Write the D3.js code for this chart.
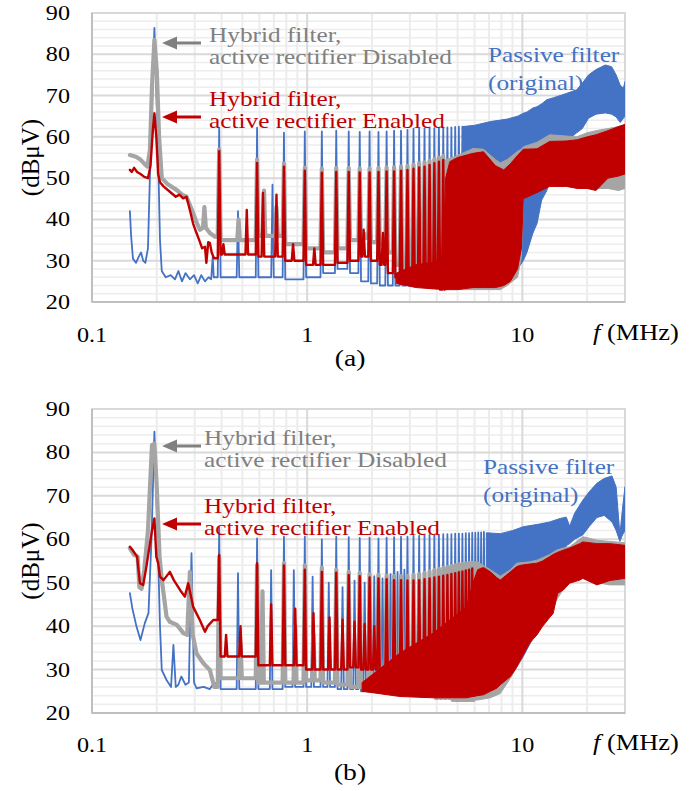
<!DOCTYPE html>
<html>
<head>
<meta charset="utf-8">
<script src="https://cdn.jsdelivr.net/npm/d3@7"></script>
<style>
  body { margin: 0; background: #fff; }
</style>
</head>
<body>
<div id="chart"></div>
<script>
// Spectre CEM (dBµV) — deux panneaux (a) et (b), axe fréquence log

const width = 700;
const height = 791;
const FONT = "'Liberation Serif', 'Times New Roman', serif";

const f0 = 0.195;        // fréquence de découpage (MHz), pas des harmoniques

const xTicks = [0.1, 1, 10];
const yTicks = [20, 30, 40, 50, 60, 70, 80, 90];

// ---------- Panneau (a) ----------
// lead = tracé avant la 2e harmonique ; peaks/valleys = harmoniques n = 2, 3, ...
// band = [f, bas, haut] zone dense à haute fréquence
const leadA_blue = [[0.15,42],[0.152,36],[0.155,30.5],[0.16,29.5],[0.165,31],[0.169,32],[0.173,30],[0.177,29.5],[0.182,33],[0.188,60],[0.195,86.4],[0.202,60],[0.207,35],[0.211,27.5],[0.22,26],[0.232,26.5],[0.243,25.5],[0.252,27.5],[0.262,25],[0.272,27],[0.285,25.5],[0.298,26.5],[0.31,24.5],[0.322,26.5],[0.335,25],[0.348,26],[0.358,25.5],[0.364,31],[0.368,26]];
const peaksA_blue = [62.2,62.2,61,61.3,61.3,61.5,61.3,61.2,61.3,61.2,61.3,61.5,61.5,61.7,62,62,62,62.1,62.1,62.2,62.2,62.3,62.3,62.4,62.5,62.5];
const valleysA_blue = [26,26,25.5,26,27,28,27,25,24.5,24,24,24,24,24,24,24,24,24,24,24,24,24.5,24.5,25,25,25.5];
const minorsA_blue = [[0.477,42],[0.69,48.4]];
const bandA_blue = [[5.3,24.5,62.5],[6,25,62.8],[7.1,26,63.7],[8.5,27,64.3],[9.5,28,65],[10.1,30,65.7],[10.5,32,66],[11.2,36.7,67],[11.7,39,67.3],[12.3,44.7,68],[13,47,69],[14,53,69.5],[16,59,70.5],[17.9,61,71.4],[19,62,73],[20.3,64.5,75],[22,65.5,76.3],[24.3,65.8,77.4],[26,65.5,77],[27.3,64.8,75],[28.5,63.5,72.5],[29.5,64.5,71.8],[30,65,73.4]];

const leadA_gray = [[0.15,55.6],[0.16,55.2],[0.168,54.5],[0.175,53.5],[0.181,52.8],[0.186,57],[0.19,72],[0.195,83.5],[0.2,76],[0.205,60],[0.211,50],[0.225,48.5],[0.248,47.1],[0.262,46],[0.275,45.5],[0.285,43.5],[0.295,41.6],[0.305,39.5],[0.317,37.5],[0.328,38],[0.333,43],[0.338,38],[0.353,36.7],[0.373,35.8]];
const peaksA_gray = [57,54.5,53.5,52.5,52.3,52.5,52.5,52.4,52.4,52.5,52.6,52.6,52.8,53,53.3,53.6,53.8,54.2,54.6,55,55.4];
const valleysA_gray = [35,36,34,33,32,33,35,35.5,34.5,34,32,29,27,26,25.5,25,24.5,24,24,23.5,23.5];
const minorsA_gray = [[0.48,40],[0.63,47],[0.72,43],[1.85,36.5],[2.25,35.5]];
const bandA_gray = [[4.4,23,54.5],[5,23,55.5],[5.9,23,57.2],[6.6,23,57],[7.5,23,54.5],[7.9,23,53.7],[8.5,24,54.5],[9.5,26,56.5],[9.9,31,57],[10.1,45.5,57.6],[11.7,47,58.7],[13.4,48.5,60.5],[16,48.5,60.2],[17.9,48,60],[20,48,61],[22,47.5,61.5],[25,47.5,62],[28,47,62.5],[30,47.5,63]];

const leadA_red = [[0.15,52],[0.153,51.5],[0.157,52.5],[0.162,51.5],[0.168,51],[0.175,50.3],[0.182,50],[0.187,53],[0.192,62],[0.195,65.7],[0.199,60],[0.203,51],[0.207,49],[0.215,48],[0.23,46.7],[0.245,45.5],[0.255,46],[0.265,45.1],[0.275,45.5],[0.285,42.3],[0.295,39],[0.306,36.7],[0.315,35],[0.325,33],[0.335,33.4],[0.34,29.5],[0.347,34.5],[0.353,34.3],[0.36,32],[0.369,30.6]];
const peaksA_red = [56.5,53.7,52.8,51.8,51.3,51.5,51.5,51.4,51.4,51.5,51.6,51.6,51.8,52,52.3,52.6,52.8,53.2,53.6,54,54.4];
const valleysA_red = [31.5,31,30,29,29,29.5,30,31,30,29,27,26,25.5,25,24.5,24,24,23.5,23.5,23,23];
const minorsA_red = [[0.408,34],[0.524,42.3],[0.623,46.4],[0.72,46],[0.86,34],[1.08,33],[1.83,37.5],[2.25,36.7]];
const bandA_red = [[2.6,24.5,27],[3.2,23.5,29],[4.3,23,30],[4.4,23,50],[4.6,23,54],[5,23,55],[5.9,23.5,56],[6.6,23.5,56.4],[7.5,23.5,53],[8.2,24,52],[8.8,25,53.5],[9.5,28,55.5],[9.9,33,56.5],[10.1,45,57],[11.7,46.5,57.1],[13.4,48,58.9],[16,48,59],[18,47.5,59.3],[20,47.5,60],[22,47,60.5],[25,50,61.5],[28,50.5,62.5],[30,51,63]];

// ---------- Panneau (b) ----------
const leadB_blue = [[0.15,47.6],[0.154,44.1],[0.161,39.9],[0.168,36.8],[0.176,40.7],[0.183,43],[0.189,60],[0.195,84.8],[0.202,60],[0.207,40],[0.211,29.9],[0.222,27.6],[0.233,26],[0.239,35.7],[0.245,26],[0.252,26.5],[0.26,28.4],[0.272,26.5],[0.282,27],[0.29,56.8],[0.298,27],[0.306,25.7],[0.33,26],[0.353,25.5],[0.368,26.9]];
const peaksB_blue = [62.9,60.2,60.6,60.6,60,60.6,60.5,60.3,60.4,60.2,60.4,60.5,60.6,60.6,60.8,60.8,61,61,61,61,61.2,61.2,61.2,61.3,61.3,61.3,61.4,61.4,61.5,61.5,61.6,61.6,61.7];
const valleysB_blue = [25.5,25.5,26,26,26,25.5,25.5,25,25,25,25,24.5,24.5,24.5,24.5,24,24,24,24,24,24,24,24,24,24,24,24.5,24.5,24.5,25,25,25,25.5];
const minorsB_blue = [[0.477,52.2],[0.68,52.9],[0.867,52.9],[1.06,51.4],[1.26,50],[1.46,49],[1.66,50.5],[1.85,50],[2.05,51.5],[2.24,51],[2.44,52],[2.63,52.5],[2.83,53]];
const bandB_blue = [[6.8,24.5,61.5],[7.9,25.5,61.3],[9,29,62],[10.1,33,62.9],[12,40,63.5],[13.4,44,64],[15,55,64.8],[16,58.5,65.1],[16.6,59,63],[17.5,60,66],[19.1,61,69],[20.5,63,71],[22.2,65,72.9],[24,65.5,74],[26.1,64,74.6],[27.3,62,72],[28.4,59.5,61],[29.2,61,67],[30,62,72.1]];

const leadB_gray = [[0.15,57.9],[0.157,56.4],[0.163,56],[0.166,49],[0.17,48.6],[0.175,53],[0.182,62],[0.19,81.7],[0.195,82],[0.2,72],[0.206,56],[0.211,50.6],[0.216,46.8],[0.222,42.2],[0.23,41],[0.248,40.3],[0.266,38.4],[0.277,38],[0.285,52.5],[0.294,38],[0.306,33.7],[0.33,31.4],[0.353,29.9],[0.37,26]];
const peaksB_gray = [56,54,54.5,54,53.5,53,52.5,52.3,52,51.8,51.6,51.5,51.5,51.6,51.8,52,52.3,52.6,52.9,53.2,53.4,53.6,53.8,54,54.2,54.3,54.4,54.5,54.6];
const valleysB_gray = [28,27,27,27.5,27,26.5,26,26,26,25.5,25.5,25,25,24.5,24.5,24,24,24,23.5,23.5,23.5,23.5,23,23,23,23,23,23,23];
const minorsB_gray = [[0.49,36],[0.62,48],[0.88,40],[1.07,38]];
const bandB_gray = [[5.9,23,54.8],[6.2,23,54.8],[7.1,23.5,53],[7.9,24.5,51.5],[8.8,28,53],[9.4,30.5,54.5],[10.8,36.5,54.8],[11.7,38.5,55.2],[13.4,42.5,56.5],[14.4,46,57.5],[15.5,48.5,58],[16.6,50,58.3],[19.1,51,60.6],[22.2,50,59.8],[25.5,49.5,59.5],[30,49.5,59.2]];

const leadB_red = [[0.15,58.3],[0.154,57.6],[0.162,56],[0.167,49.9],[0.173,49.5],[0.179,53.7],[0.185,58.3],[0.19,62],[0.195,64.8],[0.199,56],[0.203,54.5],[0.207,51.4],[0.215,50.6],[0.23,52.5],[0.24,50.6],[0.26,47.9],[0.27,46.8],[0.28,49.9],[0.295,44.5],[0.317,41.4],[0.335,38.7],[0.345,40],[0.366,41.4]];
const peaksB_red = [56.4,54.5,54,53,52.5,52.3,51.8,51.5,51.2,51,50.8,50.6,50.6,50.5,50.5,50.6,50.8,51,51.2,51.4,51.6,51.8,52,52.2,52.4,52.6,52.8,53,53.3];
const valleysB_red = [33,31,31,30,30,30,30.5,30,30,29,28,27,26.5,26,26,25.5,25,25,24.5,24.5,24,24,24,24,24,24,24,24,24];
const minorsB_red = [[0.42,38],[0.49,40],[0.68,45],[0.88,44],[1.07,43],[1.27,42],[1.46,41.5],[1.66,41],[1.85,40.5],[2.05,40]];
const bandB_red = [[1.8,25,27],[2.7,23.8,33.8],[3.85,23.5,38.4],[5.5,23.5,44.4],[5.9,23.8,50],[6.2,24,53],[6.6,24.2,53.5],[7.1,25,52.5],[7.6,25.7,51.2],[7.9,26.5,50.6],[8.8,28.4,52.5],[9.4,30.5,53.7],[9.8,32.2,54],[10.8,36.1,54.3],[11.7,38,54.5],[12.4,39.9,55],[13.4,42,56],[13.9,42.9,56.5],[14.6,47.6,57],[15.5,48.3,57.5],[16.6,49.9,58],[18.5,50.6,59],[19.1,51,59.4],[22.2,49.5,59],[25.5,50.5,59],[30,51,58.6]];

// couleurs
const BLUE = "#4472c4";
const GRAY = "#a5a5a5";
const RED = "#c00000";
const GRAY_TXT = "#808080";

const svg = d3
  .select("#chart")
  .append("svg")
  .attr("width", width)
  .attr("height", height)
  .attr("font-family", FONT);

const x = d3.scaleLog().domain([0.1, 30]).range([92, 625]);

// demi-largeur d'une raie (MHz) : bande de résolution ou largeur relative
const halfWidth = f => Math.max(0.006, 0.014 * f);

// construit le tracé : début + raies harmoniques n*f0
function buildTrace(lead, peaks, valleys, minors) {
  const pts = lead.map(d => d.slice());
  let prev = lead[lead.length - 1][1];
  peaks.forEach((p, i) => {
    const fn = (i + 2) * f0;
    const v = valleys[i];
    const h = halfWidth(fn);
    pts.push([fn - h, prev], [fn, p], [fn + h, v]);
    minors
      .filter(m => m[0] > fn && m[0] < fn + f0)
      .forEach(m => {
        const hm = halfWidth(m[0]);
        pts.push([m[0] - hm, v], [m[0], m[1]], [m[0] + hm, v]);
      });
    prev = v;
  });
  return pts;
}

const panels = [
  {
    id: "a", top: 13, bottom: 302, tickY: 342, unitY: 340, labelY: 366, notes: [42, 106], blueY: 62, noteX: 209, blueX: 488,
    series: [
      { color: BLUE, w: 1.8, lead: leadA_blue, peaks: peaksA_blue, valleys: valleysA_blue, minors: minorsA_blue, band: bandA_blue },
      { color: GRAY, w: 4.2, lead: leadA_gray, peaks: peaksA_gray, valleys: valleysA_gray, minors: minorsA_gray, band: bandA_gray },
      { color: RED, w: 2.4, lead: leadA_red, peaks: peaksA_red, valleys: valleysA_red, minors: minorsA_red, band: bandA_red }
    ]
  },
  {
    id: "b", top: 409, bottom: 713, tickY: 752, unitY: 750, labelY: 780, notes: [445, 513], blueY: 474, noteX: 204, blueX: 483,
    series: [
      { color: BLUE, w: 1.8, lead: leadB_blue, peaks: peaksB_blue, valleys: valleysB_blue, minors: minorsB_blue, band: bandB_blue },
      { color: GRAY, w: 4.2, lead: leadB_gray, peaks: peaksB_gray, valleys: valleysB_gray, minors: minorsB_gray, band: bandB_gray },
      { color: RED, w: 2.4, lead: leadB_red, peaks: peaksB_red, valleys: valleysB_red, minors: minorsB_red, band: bandB_red }
    ]
  }
];

const SX = 1.15; // étirement horizontal du texte (figure d'origine)

function label(g, txt, px, py, size, color, anchor) {
  return g
    .append("text")
    .attr("transform", `translate(${px},${py}) scale(${SX},1)`)
    .attr("text-anchor", anchor || "start")
    .attr("font-family", FONT)
    .style("font-size", size + "px")
    .style("fill", color || "#000")
    .text(txt);
}

function arrow(g, yy, color) {
  g.append("line")
    .attr("x1", 201).attr("x2", 174).attr("y1", yy).attr("y2", yy)
    .attr("stroke", color).attr("stroke-width", 3);
  g.append("path")
    .attr("d", `M162,${yy} L177,${yy - 6.5} L177,${yy + 6.5} Z`)
    .attr("fill", color);
}

panels.forEach(p => {
  const y = d3.scaleLinear().domain([20, 90]).range([p.bottom, p.top]);
  const g = svg.append("g");
  const [x0, x1] = x.range();

  // 1. grille secondaire
  const minorX = [];
  [0.1, 1, 10].forEach(dec => d3.range(2, 10).forEach(k => { if (k * dec < 30) minorX.push(k * dec); }));
  g.selectAll(".mx").data(minorX).join("line")
    .attr("x1", d => x(d)).attr("x2", d => x(d))
    .attr("y1", p.top).attr("y2", p.bottom)
    .attr("stroke", "#ececec").attr("stroke-width", 2);
  const minorY = d3.range(22, 90, 2).filter(v => v % 10 !== 0);
  g.selectAll(".my").data(minorY).join("line")
    .attr("x1", x0).attr("x2", x1)
    .attr("y1", d => y(d)).attr("y2", d => y(d))
    .attr("stroke", "#ededed").attr("stroke-width", 1.5);

  // 2. grille principale
  g.selectAll(".MX").data(xTicks).join("line")
    .attr("x1", d => x(d)).attr("x2", d => x(d))
    .attr("y1", p.top).attr("y2", p.bottom)
    .attr("stroke", "#d9d9d9").attr("stroke-width", 2);
  g.selectAll(".MY").data(yTicks).join("line")
    .attr("x1", x0).attr("x2", x1)
    .attr("y1", d => y(d)).attr("y2", d => y(d))
    .attr("stroke", "#d9d9d9").attr("stroke-width", 2);
  g.append("rect")
    .attr("x", x0).attr("y", p.top).attr("width", x1 - x0).attr("height", p.bottom - p.top)
    .attr("fill", "none").attr("stroke", "#d9d9d9").attr("stroke-width", 2);

  // 3. courbes (découpées au cadre)
  const clipId = "clip-" + p.id;
  svg.append("clipPath").attr("id", clipId)
    .append("rect").attr("x", x0).attr("y", p.top).attr("width", x1 - x0).attr("height", p.bottom - p.top);
  const plot = g.append("g").attr("clip-path", `url(#${clipId})`);

  const line = d3.line().x(d => x(d[0])).y(d => y(d[1]));
  const area = d3.area().x(d => x(d[0])).y0(d => y(d[1])).y1(d => y(d[2]));

  p.series.forEach(s => {
    plot.append("path")
      .attr("d", area(s.band))
      .attr("fill", s.color)
      .attr("stroke", s.color)
      .attr("stroke-width", 1);
    plot.append("path")
      .attr("d", line(buildTrace(s.lead, s.peaks, s.valleys, s.minors)))
      .attr("fill", "none")
      .attr("stroke", s.color)
      .attr("stroke-width", s.w)
      .attr("stroke-linejoin", "round")
      .attr("stroke-linecap", "round");
  });

  // 4. axes : traits gauche et bas
  g.append("line").attr("x1", x0).attr("x2", x0).attr("y1", p.top).attr("y2", p.bottom)
    .attr("stroke", "#bfbfbf").attr("stroke-width", 2);
  g.append("line").attr("x1", x0).attr("x2", x1).attr("y1", p.bottom).attr("y2", p.bottom)
    .attr("stroke", "#bfbfbf").attr("stroke-width", 2);

  // 5. graduations
  yTicks.forEach(v => label(g, v, 70, y(v) + 7, 21, "#000", "end"));
  xTicks.forEach(v => label(g, v, x(v), p.tickY, 21, "#000", "middle"));

  const unit = g.append("text")
    .attr("transform", `translate(593,${p.unitY}) scale(${SX},1)`)
    .attr("font-family", FONT)
    .style("font-size", "23px");
  unit.append("tspan").style("font-style", "italic").text("f");
  unit.append("tspan").text(" (MHz)");

  g.append("text")
    .attr("transform", `translate(39,${(p.top + p.bottom) / 2}) rotate(-90)`)
    .attr("text-anchor", "middle")
    .attr("font-family", FONT)
    .style("font-size", "25px")
    .text("(dBμV)");

  label(g, `(${p.id})`, 350, p.labelY, 24, "#000", "middle");

  // 6. annotations
  const [gy, ry] = p.notes;
  label(g, "Hybrid filter,", p.noteX, gy, 22, GRAY_TXT);
  label(g, "active rectifier Disabled", p.noteX, gy + 22, 22, GRAY_TXT);
  arrow(g, gy + 1, GRAY_TXT);
  label(g, "Hybrid filter,", p.noteX, ry, 22, RED);
  label(g, "active rectifier Enabled", p.noteX, ry + 22, 22, RED);
  arrow(g, ry + 11, RED);

  label(g, "Passive filter", p.blueX, p.blueY, 22, BLUE);
  label(g, "(original)", p.blueX, p.blueY + 28, 22, BLUE);
});
</script>
</body>
</html>
